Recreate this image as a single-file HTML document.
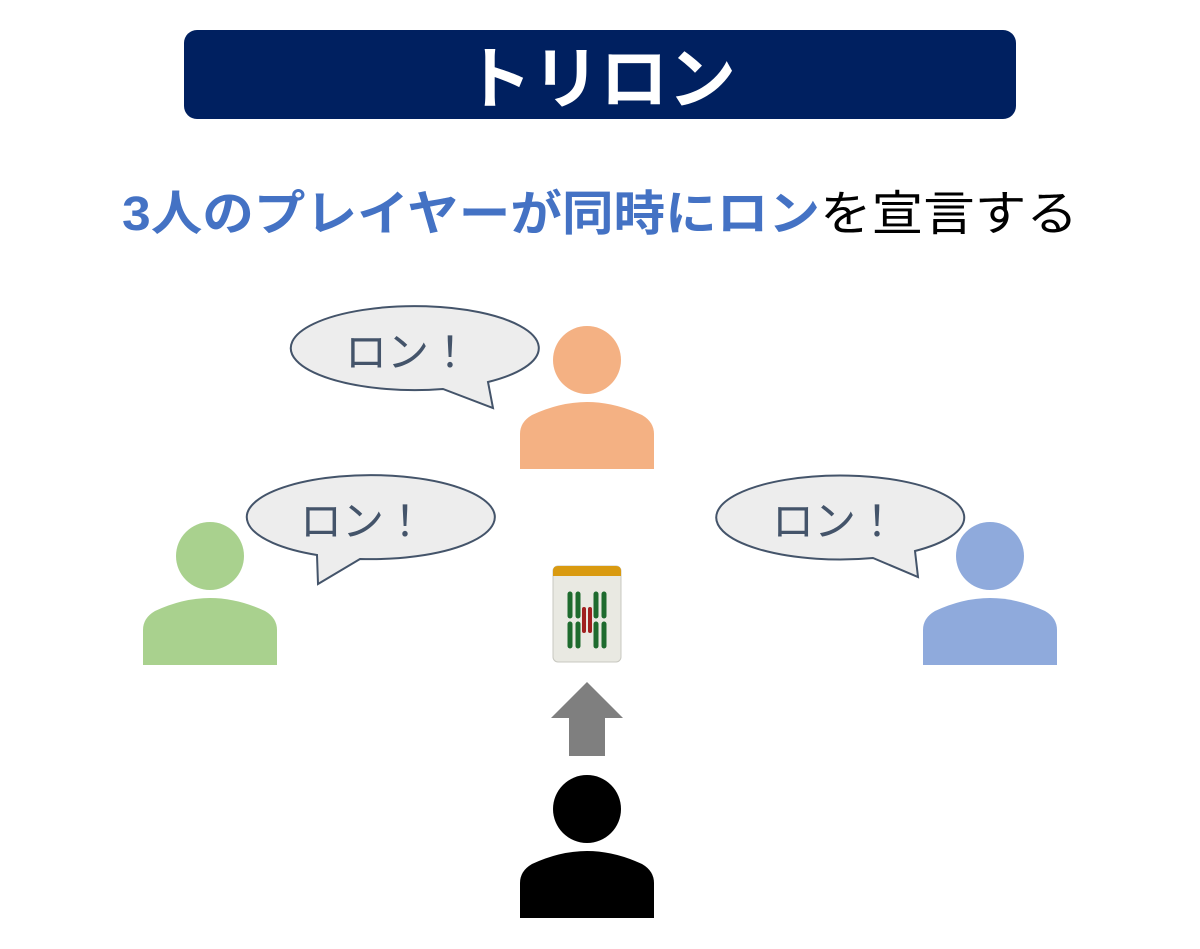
<!DOCTYPE html>
<html><head><meta charset="utf-8"><style>
html,body{margin:0;padding:0;background:#fff;}
body{width:1200px;height:949px;overflow:hidden;position:relative;font-family:"Liberation Sans","Noto Sans CJK JP",sans-serif;}
</style></head><body>
<svg width="1200" height="949" xmlns="http://www.w3.org/2000/svg" style="position:absolute;left:0;top:0">
<rect x="184" y="30" width="832" height="89" rx="13" fill="#002060"/>
<text x="600" y="103" text-anchor="middle" font-family="Liberation Sans, Noto Sans CJK JP, sans-serif" font-weight="bold" font-size="68" fill="#fff">トリロン</text>
<text x="600" y="230" text-anchor="middle" font-family="Liberation Sans, Noto Sans CJK JP, sans-serif" font-size="48" textLength="956" lengthAdjust="spacingAndGlyphs"><tspan fill="#4472c4" font-weight="bold">3人のプレイヤーが同時にロン</tspan><tspan fill="#000">を宣言する</tspan></text>

<defs>
<g id="p">
<circle cx="587" cy="360" r="34"/>
<path d="M520,469 V434 Q520,422 532,415 Q560,402 587,402 Q614,402 642,415 Q654,422 654,434 V469 Z"/>
</g>
</defs>
<use href="#p" fill="#f4b183"/>
<use href="#p" fill="#a9d18e" transform="translate(-377,196)"/>
<use href="#p" fill="#8faadc" transform="translate(403,196)"/>
<use href="#p" fill="#000" transform="translate(0,449)"/>

<g fill="#ededed" stroke="#44546a" stroke-width="2">
<path d="M443,389 A124,42 0 1 1 488,382 L493,408 Z"/>
<path d="M318,584 L317,555 A124,42 0 1 1 360,559 Z"/>
<path d="M873,558 A124,42 0 1 1 915,551 L918,577 Z"/>
</g>
<g fill="#44546a" font-family="Liberation Sans, Noto Sans CJK JP, sans-serif" font-size="42" text-anchor="middle">
<text x="408" y="367">ロン！</text>
<text x="363" y="536">ロン！</text>
<text x="835" y="536">ロン！</text>
</g>

<path d="M587,682 L623,718 L605,718 L605,756 L569,756 L569,718 L551,718 Z" fill="#7f7f7f"/>

<rect x="553" y="566" width="68" height="96" rx="5" fill="#e9e9e2" stroke="#c8c8c0"/>
<path d="M553,576 V571 Q553,566 558,566 H616 Q621,566 621,571 V576 Z" fill="#d99a10"/>
<g stroke="#1e6b2e" stroke-width="5" stroke-linecap="round">
<line x1="570" y1="594" x2="570" y2="616"/><line x1="578" y1="594" x2="578" y2="616"/>
<line x1="596" y1="594" x2="596" y2="616"/><line x1="604" y1="594" x2="604" y2="616"/>
<line x1="570" y1="624" x2="570" y2="646"/><line x1="578" y1="624" x2="578" y2="646"/>
<line x1="596" y1="624" x2="596" y2="646"/><line x1="604" y1="624" x2="604" y2="646"/>
</g>
<g stroke="#a02020" stroke-width="4" stroke-linecap="round">
<line x1="584" y1="609" x2="584" y2="631"/><line x1="590" y1="609" x2="590" y2="631"/>
</g>
</svg>
</body></html>
